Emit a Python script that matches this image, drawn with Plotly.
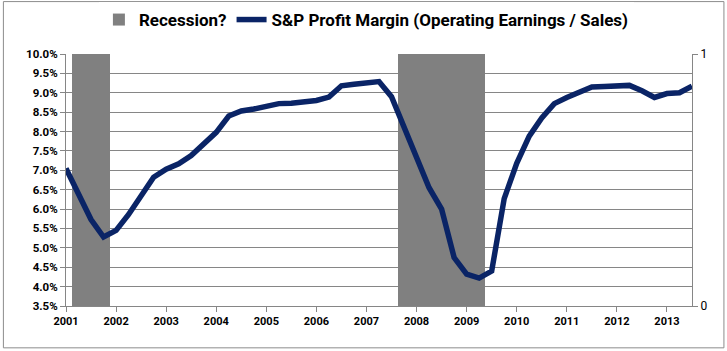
import plotly.graph_objects as go

# Quarterly data, 2001Q1 .. 2013Q3
years = [str(y) for y in range(2001, 2014)]
quarters = list(range(51))
profit_margin = [
    7.05, 6.40, 5.73, 5.28, 5.45, 5.86, 6.32, 6.82, 7.03, 7.17,
    7.38, 7.68, 7.98, 8.40, 8.53, 8.58, 8.66, 8.72, 8.73, 8.75,
    8.80, 8.89, 9.18, 9.22, 9.26, 9.29, 8.90, 8.12, 7.38, 6.55,
    6.00, 4.75, 4.32, 4.22, 4.40, 6.27, 7.18, 7.88, 8.35, 8.72,
    8.88, 9.02, 9.15, 9.16, 9.18, 9.19, 9.05, 8.88, 8.98, 9.00,
    9.17,
]
recession_quarters = [1, 2, 3, 27, 28, 29, 30, 31, 32, 33]
recession_values = [1] * len(recession_quarters)

FONT = "Roboto"
GRID = "#868686"

fig = go.Figure()
fig.add_trace(go.Bar(
    x=recession_quarters, y=recession_values, width=1,
    name="Recession?", marker=dict(color="#808080", line=dict(width=0)),
    yaxis="y", hoverinfo="skip",
))
fig.add_trace(go.Scatter(
    x=quarters, y=profit_margin, mode="lines",
    name="S&P Profit Margin (Operating Earnings / Sales)",
    line=dict(color="#0A2466", width=5.5), yaxis="y2",
))

fig.update_layout(
    width=727, height=351,
    margin=dict(l=66, r=35, t=54, b=45, autoexpand=False),
    paper_bgcolor="white", plot_bgcolor="white",
    showlegend=True,
    legend=dict(orientation="h", xref="container", x=0.504, xanchor="center",
                yref="container", y=0.943, yanchor="middle",
                font=dict(family=FONT, size=17, color="#000000", weight="bold"),
                itemwidth=30, traceorder="normal"),
    font=dict(family=FONT, color="#000000"),
    bargap=0,
    xaxis=dict(range=[0, 50], tickvals=[4 * i for i in range(len(years))], ticktext=years,
               showgrid=False, zeroline=False, showline=True, linecolor=GRID, linewidth=1,
               ticks="outside", ticklen=5, tickcolor=GRID,
               tickfont=dict(family=FONT, size=11, color="#000000", weight="bold")),
    yaxis=dict(side="right", range=[0, 1], tickvals=[0, 1], ticktext=["0", "1"],
               showgrid=False, zeroline=False, showline=True, linecolor=GRID, linewidth=1,
               ticks="outside", ticklen=5, tickcolor=GRID,
               tickfont=dict(family=FONT, size=12, color="#000000")),
    yaxis2=dict(side="left", overlaying="y", range=[3.5, 10], dtick=0.5, tick0=3.5,
                tickformat=".1f", ticksuffix="%",
                showgrid=True, gridcolor=GRID, gridwidth=1, zeroline=False,
                showline=True, linecolor=GRID, linewidth=1,
                ticks="outside", ticklen=5, tickcolor=GRID,
                tickfont=dict(family=FONT, size=11.5, color="#000000", weight="bold")),
    shapes=[dict(type="rect", xref="paper", yref="paper",
                 x0=-0.1, x1=1.051, y0=-0.166, y1=1.208,
                 line=dict(color="#8C8C8C", width=1), fillcolor="rgba(0,0,0,0)", layer="below")],
)

fig.write_html("out.html")
